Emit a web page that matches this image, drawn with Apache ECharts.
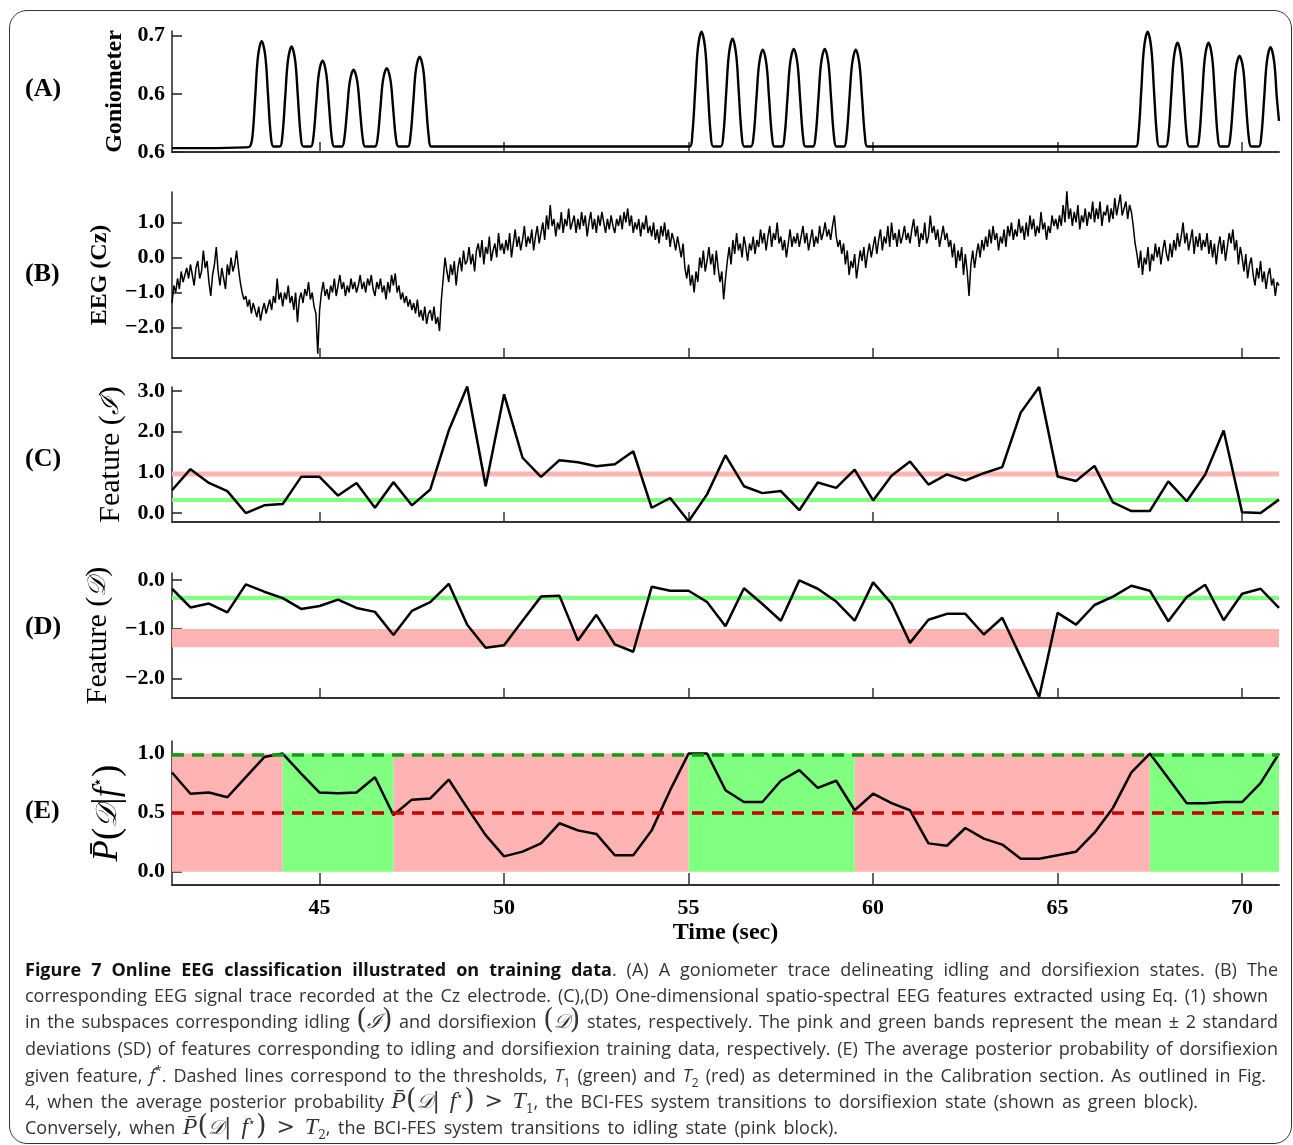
<!DOCTYPE html>
<html><head><meta charset="utf-8">
<script src="https://cdn.jsdelivr.net/npm/echarts@6/dist/echarts.min.js"></script>
<style>
html,body{margin:0;padding:0;background:#fff;width:1293px;height:1145px;overflow:hidden;}
#chart{position:absolute;left:0;top:0;width:1293px;height:955px;}
#frame{position:absolute;left:9px;top:10px;width:1283px;height:1134px;border:1.5px solid #333;border-radius:18px;box-sizing:border-box;pointer-events:none;}
.cap{position:absolute;left:25px;font-family:"Open Sans","Noto Sans",Lato,sans-serif;font-size:18px;color:#333;white-space:nowrap;line-height:26px;}
.cap b{color:#111;font-weight:700;}
.m{line-height:0;font-family:"DejaVu Serif","Liberation Serif",serif;}
.pa{font-size:27px;font-family:"DejaVu Serif",serif;}
.sc{font-size:20px;font-style:italic;}
.mm i{font-family:"Liberation Serif",serif;font-size:24px;}
.mm{font-size:22px;}
.cap sub,.cap sup{font-size:12px;line-height:0;}
</style></head>
<body>
<div id="chart"></div>
<div id="frame"></div>
<div class="cap" id="l1" style="top:956px"><b>Figure 7 Online EEG classification illustrated on training data</b>. (A) A goniometer trace delineating idling and dorsifiexion states. (B) The</div>
<div class="cap" id="l2" style="top:982px">corresponding EEG signal trace recorded at the Cz electrode. (C),(D) One-dimensional spatio-spectral EEG features extracted using Eq. (1) shown</div>
<div class="cap" id="l3" style="top:1008px">in the subspaces corresponding idling <span class="m"><span class="pa">(</span><span class="sc">ℐ</span><span class="pa">)</span></span> and dorsifiexion <span class="m"><span class="pa">(</span><span class="sc">𝒟</span><span class="pa">)</span></span> states, respectively. The pink and green bands represent the mean ± 2 standard</div>
<div class="cap" id="l4" style="top:1035px">deviations (SD) of features corresponding to idling and dorsifiexion training data, respectively. (E) The average posterior probability of dorsifiexion</div>
<div class="cap" id="l5" style="top:1062px">given feature, <i>f</i><sup>*</sup>. Dashed lines correspond to the thresholds, <i>T</i><sub>1</sub> (green) and <i>T</i><sub>2</sub> (red) as determined in the Calibration section. As outlined in Fig.</div>
<div class="cap" id="l6" style="top:1088px">4, when the average posterior probability <span class="m mm"><i>P̄</i><span class="pa">(</span><span class="sc">𝒟</span>| <i>f</i><sup>⋆</sup><span class="pa">)</span> &gt; <i>T</i><sub>1</sub></span>, the BCI-FES system transitions to dorsifiexion state (shown as green block).</div>
<div class="cap" id="l7" style="top:1114px">Conversely, when <span class="m mm"><i>P̄</i><span class="pa">(</span><span class="sc">𝒟</span>| <i>f</i><sup>⋆</sup><span class="pa">)</span> &gt; <i>T</i><sub>2</sub></span>, the BCI-FES system transitions to idling state (pink block).</div>
<script>
// ---------------- data ----------------
const timeTicks = [45, 50, 55, 60, 65, 70];
const gonioTicks = [0.55, 0.625, 0.7];
const gonioTickLabels = ['0.6', '0.6', '0.7'];
const eegTicks = [-2, -1, 0, 1];
const featITicks = [0, 1, 2, 3];
const featDTicks = [-2, -1, 0];
const probTicks = [0, 0.5, 1];

const gonioData = [
 [41,0.555],[42,0.555],[43.0,0.556],
 [43.11,0.557],[43.18,0.570],[43.26,0.625],[43.33,0.673],[43.43,0.693],[43.53,0.673],[43.60,0.625],[43.68,0.570],[43.75,0.557],
 [43.92,0.557],[43.99,0.570],[44.07,0.622],[44.14,0.667],[44.24,0.686],[44.34,0.667],[44.41,0.622],[44.49,0.570],[44.56,0.557],
 [44.76,0.557],[44.83,0.568],[44.91,0.613],[44.98,0.651],[45.08,0.668],[45.18,0.651],[45.25,0.613],[45.33,0.568],[45.40,0.557],
 [45.60,0.557],[45.67,0.567],[45.75,0.607],[45.82,0.641],[45.92,0.656],[46.02,0.641],[46.09,0.607],[46.17,0.567],[46.24,0.557],
 [46.50,0.557],[46.57,0.567],[46.65,0.608],[46.72,0.643],[46.82,0.658],[46.92,0.643],[46.99,0.608],[47.07,0.567],[47.14,0.557],
 [47.39,0.557],[47.46,0.569],[47.54,0.615],[47.61,0.656],[47.71,0.673],[47.81,0.656],[47.88,0.615],[47.96,0.569],[48.03,0.557],
 [51.0,0.557],
 [55.03,0.557],[55.10,0.572],[55.18,0.631],[55.25,0.683],[55.35,0.705],[55.45,0.683],[55.52,0.631],[55.60,0.572],[55.67,0.557],
 [55.87,0.557],[55.94,0.571],[56.02,0.627],[56.09,0.675],[56.19,0.696],[56.29,0.675],[56.36,0.627],[56.44,0.571],[56.51,0.557],
 [56.69,0.557],[56.76,0.570],[56.84,0.620],[56.91,0.663],[57.01,0.682],[57.11,0.663],[57.18,0.620],[57.26,0.570],[57.33,0.557],
 [57.53,0.557],[57.60,0.570],[57.68,0.620],[57.75,0.664],[57.85,0.683],[57.95,0.664],[58.02,0.620],[58.10,0.570],[58.17,0.557],
 [58.37,0.557],[58.44,0.570],[58.52,0.620],[58.59,0.664],[58.69,0.683],[58.79,0.664],[58.86,0.620],[58.94,0.570],[59.01,0.557],
 [59.21,0.557],[59.28,0.570],[59.36,0.620],[59.43,0.663],[59.53,0.682],[59.63,0.663],[59.70,0.620],[59.78,0.570],[59.85,0.557],
 [63.0,0.557],
 [67.12,0.557],[67.19,0.572],[67.27,0.631],[67.34,0.683],[67.44,0.705],[67.54,0.683],[67.61,0.631],[67.69,0.572],[67.76,0.557],
 [67.93,0.557],[68.00,0.570],[68.08,0.624],[68.15,0.671],[68.25,0.691],[68.35,0.671],[68.42,0.624],[68.50,0.570],[68.57,0.557],
 [68.77,0.557],[68.84,0.570],[68.92,0.624],[68.99,0.671],[69.09,0.691],[69.19,0.671],[69.26,0.624],[69.34,0.570],[69.41,0.557],
 [69.61,0.557],[69.68,0.569],[69.76,0.616],[69.83,0.657],[69.93,0.674],[70.03,0.657],[70.10,0.616],[70.18,0.569],[70.25,0.557],
 [70.45,0.557],[70.52,0.570],[70.60,0.621],[70.67,0.666],[70.77,0.685],[70.87,0.666],[70.94,0.621],[71.0,0.590]
];

const eegStart = 41, eegStep = 0.05;
const eegValues = [
 -1.3,-0.8,-1.0,-0.6,-0.9,-0.4,-0.7,-0.5,-0.3,-0.6,-0.2,-0.5,-0.8,-0.3,-0.1,-0.6,-0.4,0.2,-0.3,-0.1,
 -0.7,-1.1,-0.5,-0.2,0.3,-0.4,-0.8,-0.3,-0.6,-0.9,-0.2,-0.5,0.0,-0.4,-0.2,0.2,-0.3,-0.7,-1.0,-1.2,
 -1.1,-1.4,-1.2,-1.6,-1.3,-1.5,-1.7,-1.4,-1.8,-1.5,-1.3,-1.6,-1.4,-1.2,-1.5,-1.1,-1.3,-0.6,-1.2,-1.0,
 -1.4,-1.0,-1.2,-0.8,-1.3,-1.1,-1.5,-1.0,-1.85,-1.2,-1.0,-1.3,-0.9,-1.1,-0.7,-1.2,-1.0,-1.4,-1.6,-2.75,
 -1.5,-1.0,-0.7,-1.1,-0.9,-1.2,-0.8,-1.0,-0.6,-1.1,-0.8,-0.5,-0.9,-0.7,-1.1,-0.8,-1.0,-0.6,-0.9,-0.7,
 -1.0,-0.8,-0.5,-0.9,-0.7,-1.0,-0.6,-0.8,-0.5,-0.9,-1.1,-0.7,-0.9,-0.6,-1.0,-0.8,-1.2,-0.7,-1.0,-0.5,
 -0.8,-0.45,-1.0,-0.8,-1.2,-1.0,-1.3,-1.1,-1.4,-1.2,-1.5,-1.3,-1.6,-1.2,-1.7,-1.5,-1.8,-1.4,-1.9,-1.6,
 -1.5,-1.8,-1.4,-1.9,-1.7,-2.1,-1.2,-0.6,0.0,-0.4,-0.7,-0.2,-0.5,-0.1,-0.8,-0.3,0.0,-0.4,0.2,-0.2,
 -0.1,0.3,-0.2,0.1,-0.4,0.2,0.4,0.0,0.5,-0.2,0.3,0.1,0.6,-0.1,0.2,0.4,0.0,0.7,0.2,0.4,
 0.1,0.5,0.2,0.7,0.0,0.4,0.8,0.3,0.6,0.2,0.5,0.9,0.3,0.6,0.4,0.8,0.2,0.6,0.9,0.4,
 0.7,1.0,0.5,1.2,0.8,1.5,0.9,1.1,0.6,1.0,0.8,1.3,0.7,1.1,0.9,1.4,0.8,1.0,1.2,0.7,
 1.1,0.8,1.3,0.9,1.2,0.6,1.0,1.3,0.8,1.1,0.7,1.2,0.9,1.3,1.0,0.7,1.1,0.8,1.2,0.9,
 0.7,1.1,0.9,1.2,0.8,1.3,1.0,1.4,0.9,1.2,0.7,1.0,0.8,1.1,0.6,1.0,0.8,1.2,0.7,0.9,
 0.6,1.0,0.5,0.8,0.4,0.9,0.6,1.0,0.5,0.8,0.3,0.7,0.5,0.2,0.6,0.3,0.0,0.4,-0.3,-0.6,
 -0.2,-0.8,-0.5,-1.0,-0.4,-0.7,0.0,-0.3,0.2,-0.4,-0.1,0.3,-0.2,0.1,-0.5,0.2,-0.3,-0.7,-0.4,-1.2,
 -0.6,-0.1,0.3,-0.2,0.5,0.1,0.7,0.2,0.4,0.0,0.6,0.3,-0.1,0.4,0.2,0.6,0.1,0.5,0.3,0.8,
 0.4,0.7,0.2,0.6,0.9,0.3,0.7,0.5,1.0,0.4,0.6,0.2,0.5,0.0,0.4,0.8,0.3,0.6,0.4,0.7,
 0.3,0.6,0.9,0.4,0.7,0.2,0.5,0.8,0.3,0.6,0.4,0.9,0.5,0.7,1.0,0.6,0.8,0.5,0.9,1.2,
 0.6,0.3,0.5,0.1,0.4,-0.2,0.2,-0.5,-0.1,-0.3,0.1,-0.6,-0.2,0.2,-0.1,0.3,-0.3,0.1,0.4,0.0,
 0.3,0.6,0.1,0.5,0.8,0.2,0.6,0.4,0.9,0.3,1.0,0.5,0.7,0.3,0.8,0.4,0.6,0.9,0.5,0.7,
 0.4,0.8,1.1,0.6,0.9,0.3,0.7,0.5,1.0,0.4,0.6,1.2,0.7,0.9,0.5,0.8,0.3,0.6,0.9,0.5,
 0.7,0.3,0.5,0.0,0.4,-0.3,0.2,-0.1,0.3,-0.5,0.1,-0.4,-1.1,-0.2,0.2,-0.3,0.1,0.4,0.0,0.5,
 0.2,0.6,0.3,0.8,0.4,0.9,0.5,0.7,0.2,0.6,0.4,0.8,0.3,0.9,0.6,1.0,0.5,0.8,0.6,1.1,
 0.7,0.9,0.5,1.0,0.6,1.2,0.8,1.1,0.6,0.9,0.7,1.3,0.8,1.0,0.5,0.9,0.7,1.2,0.9,1.1,
 0.8,1.2,0.9,1.5,1.0,1.9,1.1,1.4,0.9,1.3,1.0,1.5,0.8,1.2,1.0,1.4,0.9,1.3,1.1,1.6,
 1.0,1.4,1.1,1.6,0.9,1.3,1.2,1.5,1.0,1.4,1.1,1.7,1.2,1.5,1.8,1.2,1.4,1.6,1.1,1.5,
 1.3,0.9,0.4,0.1,-0.3,0.2,-0.5,0.0,-0.2,0.3,-0.4,0.1,-0.1,0.4,0.0,0.3,-0.2,0.2,0.5,0.1,
 -0.1,0.4,0.0,0.5,0.2,0.7,0.3,0.6,1.0,0.4,0.7,0.2,0.5,0.8,0.1,0.6,0.3,0.7,0.2,0.5,
 0.3,0.7,0.1,0.5,0.0,0.4,-0.2,0.3,0.6,0.1,0.5,-0.1,0.3,0.7,0.4,0.8,0.2,0.5,-0.2,0.3,
 0.0,-0.4,0.1,-0.6,-0.2,0.0,-0.5,-0.8,-0.3,-0.6,-0.1,-0.7,-0.4,-0.9,-0.5,-0.3,-0.8,-0.6,-1.1,-0.7,
 -0.8
];

const featStart = 41, featStep = 0.5;
const featI = [0.56,1.08,0.74,0.54,0.00,0.19,0.22,0.89,0.89,0.43,0.74,0.13,0.76,0.19,0.58,2.03,3.11,0.66,2.92,1.36,
 0.89,1.30,1.25,1.15,1.20,1.52,0.13,0.37,-0.20,0.46,1.42,0.66,0.49,0.54,0.07,0.75,0.62,1.07,0.31,0.92,
 1.27,0.70,0.95,0.80,0.98,1.13,2.47,3.10,0.90,0.79,1.16,0.26,0.05,0.05,0.78,0.29,0.95,2.03,0.02,0.00,0.33];
const featD = [-0.18,-0.56,-0.48,-0.66,-0.09,-0.24,-0.37,-0.59,-0.53,-0.40,-0.57,-0.65,-1.12,-0.63,-0.45,-0.08,-0.91,-1.38,-1.33,-0.83,
 -0.34,-0.32,-1.23,-0.71,-1.31,-1.46,-0.14,-0.22,-0.22,-0.45,-0.94,-0.17,-0.49,-0.83,-0.01,-0.18,-0.44,-0.83,-0.05,-0.48,
 -1.28,-0.81,-0.69,-0.69,-1.11,-0.77,-1.57,-2.38,-0.67,-0.91,-0.51,-0.34,-0.12,-0.22,-0.84,-0.35,-0.10,-0.82,-0.28,-0.18,-0.57];
const probD = [0.84,0.66,0.67,0.63,0.80,0.97,1.00,0.83,0.67,0.665,0.67,0.80,0.48,0.61,0.62,0.78,0.54,0.31,0.13,0.17,
 0.24,0.41,0.35,0.32,0.14,0.14,0.35,0.69,1.00,1.00,0.69,0.59,0.59,0.77,0.86,0.71,0.77,0.52,0.66,0.58,
 0.52,0.24,0.22,0.37,0.28,0.23,0.11,0.11,0.14,0.17,0.33,0.54,0.84,1.00,0.79,0.58,0.58,0.59,0.59,0.75,1.00];

const bandIIdle = [0.90, 1.02];
const bandIDorsi = [0.27, 0.37];
const bandDIdle = [-1.37, -1.00];
const bandDDorsi = [-0.41, -0.32];
const thresholdT1 = 0.99, thresholdT2 = 0.5;
const idleBlocks = [[41, 44], [47, 55], [59.5, 67.5]];
const dorsiBlocks = [[44, 47], [55, 59.5], [67.5, 71]];

// ---------------- chart ----------------
const SERIF = '"Liberation Serif","Times New Roman","DejaVu Serif",serif';
const PINK = '#ffb3b3', GREEN = '#80ff80';
const eegData = eegValues.map((v, i) => [eegStart + i * eegStep, v]);
const toPairs = arr => arr.map((v, i) => [featStart + i * featStep, v]);
const fmt1 = v => (v < 0 ? '\u2212' : '') + Math.abs(v).toFixed(1);

const gridTops = [31, 192, 387, 573, 741];
const gridHeights = [121, 166, 135, 125, 144];
const grids = gridTops.map((t, i) => ({left: 172, width: 1107, top: t, height: gridHeights[i]}));

const xAxes = grids.map((g, i) => ({
  type: 'value', gridIndex: i, min: 41, max: 71,
  axisLine: {show: true, onZero: false, lineStyle: {color: '#333', width: 2}},
  axisTick: {show: true, inside: true, length: i === 4 ? 12 : 10, customValues: timeTicks, lineStyle: {color: '#333', width: 1.5}},
  axisLabel: {show: i === 4, customValues: timeTicks, margin: 12, color: '#000', fontFamily: SERIF, fontWeight: 'bold', fontSize: 22},
  splitLine: {show: false},
  name: i === 4 ? 'Time (sec)' : '', nameLocation: 'middle', nameGap: 36,
  nameTextStyle: {color: '#000', fontFamily: SERIF, fontWeight: 'bold', fontSize: 24}
}));

function yAx(i, min, max, ticks, formatter, name, nameGap, rich) {
  return {
    type: 'value', gridIndex: i, min: min, max: max,
    axisLine: {show: true, onZero: false, lineStyle: {color: '#222', width: 1.5}},
    axisTick: {show: true, inside: true, length: 10, customValues: ticks, lineStyle: {color: '#222', width: 1.5}},
    axisLabel: {customValues: ticks, formatter: formatter, margin: 7, color: '#000', fontFamily: SERIF, fontWeight: 'bold', fontSize: 22},
    splitLine: {show: false},
    name: name, nameLocation: 'middle', nameRotate: 90, nameGap: nameGap,
    nameTextStyle: {color: '#000', fontFamily: SERIF, rich: rich}
  };
}
const boldName = {n: {fontFamily: SERIF, fontWeight: 'bold', fontSize: 24, color: '#000'}};
const featRich = {
  a: {fontFamily: SERIF, fontSize: 30, color: '#000'},
  c: {fontFamily: '"DejaVu Serif",serif', fontStyle: 'italic', fontSize: 25, color: '#000'}
};
const probRich = {
  p: {fontFamily: SERIF, fontStyle: 'italic', fontSize: 35, color: '#000'},
  a: {fontFamily: SERIF, fontSize: 37, color: '#000'},
  c: {fontFamily: '"DejaVu Serif",serif', fontStyle: 'italic', fontSize: 29, color: '#000'},
  s: {fontFamily: '"DejaVu Sans",sans-serif', fontSize: 17, color: '#000', verticalAlign: 'top', lineHeight: 18}
};

const yAxes = [
  yAx(0, 0.55, 0.706, gonioTicks, v => gonioTickLabels[gonioTicks.indexOf(v)] || v.toFixed(1), '{n|Goniometer}', 42, boldName),
  yAx(1, -2.87, 1.87, eegTicks, fmt1, '{n|EEG (Cz)}', 60, boldName),
  yAx(2, -0.22, 3.1, featITicks, fmt1, '{a|Feature (}{c|ℐ}{a|)}', 44, featRich),
  yAx(3, -2.40, 0.14, featDTicks, fmt1, '{a|Feature (}{c|𝒟}{a|)}', 59, featRich),
  yAx(4, -0.112, 1.106, probTicks, fmt1, '{p|P̄}{a|(}{c|𝒟}{a||}{p|f}{s|⋆}{a|)}', 44, probRich)
];

const blackLine = (w) => ({color: '#000', width: w});
const dash = [12, 8];
const series = [
  {type: 'line', xAxisIndex: 0, yAxisIndex: 0, data: gonioData, showSymbol: false, smooth: 0.35, lineStyle: blackLine(2.4), z: 3},
  {type: 'line', xAxisIndex: 1, yAxisIndex: 1, data: eegData, showSymbol: false, lineStyle: blackLine(1.5), z: 3},
  {type: 'line', xAxisIndex: 2, yAxisIndex: 2, data: [], z: 1, markArea: {silent: true, data: [
      [{yAxis: bandIIdle[0], itemStyle: {color: PINK, opacity: 1}}, {yAxis: bandIIdle[1]}],
      [{yAxis: bandIDorsi[0], itemStyle: {color: GREEN, opacity: 1}}, {yAxis: bandIDorsi[1]}]]}},
  {type: 'line', xAxisIndex: 2, yAxisIndex: 2, data: toPairs(featI), showSymbol: false, lineStyle: blackLine(2.5), z: 3},
  {type: 'line', xAxisIndex: 3, yAxisIndex: 3, data: [], z: 1, markArea: {silent: true, data: [
      [{yAxis: bandDIdle[0], itemStyle: {color: PINK, opacity: 1}}, {yAxis: bandDIdle[1]}],
      [{yAxis: bandDDorsi[0], itemStyle: {color: GREEN, opacity: 1}}, {yAxis: bandDDorsi[1]}]]}},
  {type: 'line', xAxisIndex: 3, yAxisIndex: 3, data: toPairs(featD), showSymbol: false, lineStyle: blackLine(2.5), z: 3},
  {type: 'line', xAxisIndex: 4, yAxisIndex: 4, data: [], z: 1, markArea: {silent: true, data:
      idleBlocks.map(b => [{xAxis: b[0], yAxis: 0, itemStyle: {color: PINK, opacity: 1}}, {xAxis: b[1], yAxis: 1}])
      .concat(dorsiBlocks.map(b => [{xAxis: b[0], yAxis: 0, itemStyle: {color: GREEN, opacity: 1}}, {xAxis: b[1], yAxis: 1}]))}},
  {type: 'line', xAxisIndex: 4, yAxisIndex: 4, data: [], z: 2, markLine: {silent: true, symbol: ['none', 'none'], label: {show: false},
      lineStyle: {type: dash, width: 3.5},
      data: [{yAxis: thresholdT1, lineStyle: {color: '#109f10', type: dash, width: 3.5}},
             {yAxis: thresholdT2, lineStyle: {color: '#c40000', type: dash, width: 3.5}}]}},
  {type: 'line', xAxisIndex: 4, yAxisIndex: 4, data: toPairs(probD), showSymbol: false, lineStyle: blackLine(2.5), z: 3}
];

const panelLetters = ['(A)', '(B)', '(C)', '(D)', '(E)'];
const letterY = [90, 275, 460, 628, 812];
const graphic = panelLetters.map((t, i) => ({
  type: 'text', left: 25, top: letterY[i] - 14,
  style: {text: t, font: 'bold 26px ' + SERIF, fill: '#000'}
}));

const chart = echarts.init(document.getElementById('chart'), null, {renderer: 'canvas'});
chart.setOption({
  animation: false, backgroundColor: 'transparent',
  grid: grids, xAxis: xAxes, yAxis: yAxes, series: series, graphic: graphic
});

// justify caption lines to the widths seen in the figure
const capWidths = {l1: 1253, l2: 1243, l3: 1253, l4: 1253, l5: 1241, l6: 1173, l7: 813};
Object.keys(capWidths).forEach(id => {
  const el = document.getElementById(id);
  const spaces = (el.textContent.match(/ /g) || []).length;
  const w = el.getBoundingClientRect().width;
  if (spaces > 0) el.style.wordSpacing = ((capWidths[id] - w) / spaces) + 'px';
});
</script>
</body></html>
